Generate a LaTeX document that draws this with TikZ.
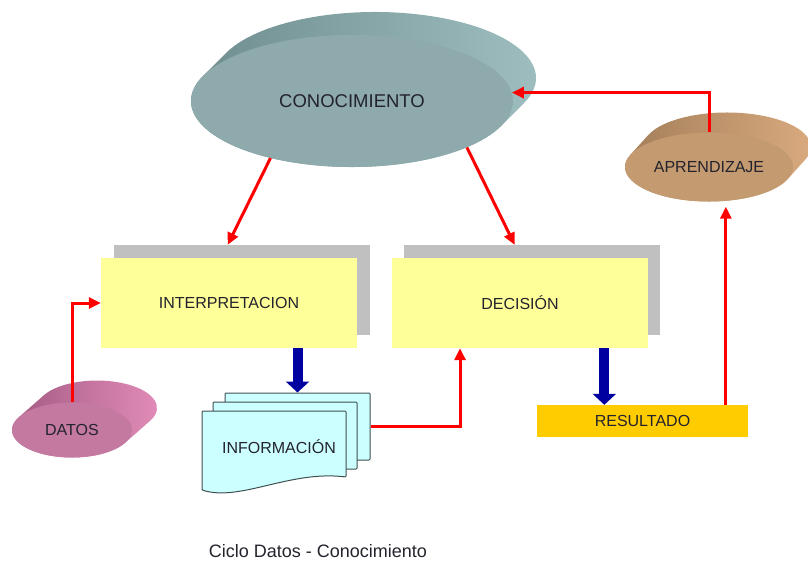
\documentclass[tikz,border=0pt]{standalone}
\usepackage{fontspec}
\setmainfont{Liberation Sans}
\usetikzlibrary{shapes.geometric,arrows.meta}

\definecolor{conoFrente}{RGB}{142,170,172}
\definecolor{conoOsc}{RGB}{108,138,140}
\definecolor{conoClaro}{RGB}{160,192,194}
\definecolor{rosaFrente}{RGB}{196,122,160}
\definecolor{rosaOsc}{RGB}{160,88,128}
\definecolor{rosaClaro}{RGB}{228,142,186}
\definecolor{cafeFrente}{RGB}{196,154,112}
\definecolor{cafeOsc}{RGB}{160,124,88}
\definecolor{cafeClaro}{RGB}{220,172,128}
\definecolor{amarillo}{RGB}{255,255,153}
\definecolor{gris}{RGB}{192,192,192}
\definecolor{naranja}{RGB}{255,204,0}
\definecolor{cian}{RGB}{204,255,255}
\definecolor{borde}{RGB}{64,80,80}
\definecolor{azul}{RGB}{0,0,160}
\definecolor{tinta}{RGB}{35,35,45}

\begin{document}
\begin{tikzpicture}[x=1pt,y=1pt,
  texto/.style={text=tinta,font=\fontsize{16}{19}\selectfont},
  disco/.style={ellipse,inner sep=0pt,texto},
  caja/.style={rectangle,fill=amarillo,minimum width=256pt,minimum height=90pt,texto},
  sombra/.style={rectangle,fill=gris,minimum width=256pt,minimum height=90pt},
  hoja/.style={fill=cian,draw=borde,line width=1pt,rounded corners=1pt},
  flecha/.style={red,line width=3pt,-{Triangle[length=12pt,width=11pt]}},
  flechaazul/.style={azul,line width=10pt,-{Triangle[length=11pt,width=23pt]}}]
\useasboundingbox (0,0) rectangle (808,-562);

% conocimiento
\shade[left color=conoOsc,middle color=conoOsc,right color=conoClaro] (352,-101) ++(157.7:161 and 66) -- ++(23,23)
  arc[start angle=157.7,end angle=-22.3,x radius=161,y radius=66] -- ++(-23,-23)
  arc[start angle=-22.3,end angle=-202.3,x radius=161,y radius=66] -- cycle;
\node[disco,fill=conoFrente,minimum width=322pt,minimum height=132pt,font=\fontsize{18.5}{22}\selectfont] (conoc) at (352,-101) {CONOCIMIENTO};

% aprendizaje
\shade[left color=cafeOsc,middle color=cafeOsc,right color=cafeClaro] (709,-167) ++(159.7:84 and 34.5) -- ++(18,20)
  arc[start angle=159.7,end angle=-20.3,x radius=84,y radius=34.5] -- ++(-18,-20)
  arc[start angle=-20.3,end angle=-200.3,x radius=84,y radius=34.5] -- cycle;
\node[disco,fill=cafeFrente,minimum width=168pt,minimum height=69pt] (aprend) at (709,-167) {APRENDIZAJE};

% datos
\shade[left color=rosaOsc,middle color=rosaOsc,right color=rosaClaro] (72,-430) ++(152.5:60 and 27.5) -- ++(25,22)
  arc[start angle=152.5,end angle=-27.5,x radius=60,y radius=27.5] -- ++(-25,-22)
  arc[start angle=-27.5,end angle=-207.5,x radius=60,y radius=27.5] -- cycle;
\node[disco,fill=rosaFrente,minimum width=120pt,minimum height=55pt] (datos) at (72,-430) {DATOS};

% cajas
\node[sombra] (interpsh) at (241.5,-290) {};
\node[caja] (interp) at (229,-303) {INTERPRETACION};
\node[sombra] (decsh) at (532,-290) {};
\node[caja] (dec) at (520,-303) {DECISIÓN};
\node[rectangle,fill=naranja,minimum width=211pt,minimum height=32pt,texto] (res) at (642.5,-421) {RESULTADO};

% informacion
\node[hoja,minimum width=145pt,minimum height=67pt] (infoc) at (297.5,-426.5) {};
\node[hoja,minimum width=144pt,minimum height=67pt] (infob) at (285,-435.5) {};
\draw[hoja] (202,-411) -- (346,-411) -- (346,-477) .. controls (290,-470) and (240,-502) .. (202,-490) -- cycle;
\node[texto] (info) at (279,-447) {INFORMACIÓN};

% flechas
\draw[flechaazul] (interp.south -| infoc.north) -- (infoc.north);
\draw[flechaazul] (dec.south -| res.157) -- (res.157);

\draw[flecha] (conoc.215) -- (interpsh.107);
\draw[flecha] (conoc.338) -- (decsh.111);
\draw[flecha] (datos.north) |- (interp.west);
\draw[flecha] (infoc.east) -| (dec.217);
\draw[flecha,shorten >=5pt] (res.11) -- (res.11 |- aprend.south);
\draw[flecha] (aprend.north) |- (conoc.3);

\node[text=tinta,font=\fontsize{18}{21}\selectfont] (titulo) at (318,-551) {Ciclo Datos - Conocimiento};
\end{tikzpicture}
\end{document}
